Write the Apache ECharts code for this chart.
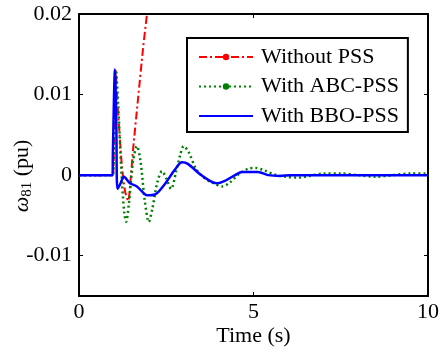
<!DOCTYPE html>
<html>
<head>
<meta charset="utf-8">
<script src="https://cdn.jsdelivr.net/npm/echarts@6/dist/echarts.min.js"></script>
<style>
  html, body { margin: 0; padding: 0; background: #fff; }
  #chart { width: 441px; height: 352px; }
</style>
</head>
<body>
<div id="chart"></div>
<script>
// series names
const names = ['Without PSS', 'With ABC-PSS', 'With BBO-PSS'];

// Without PSS (unstable, leaves the plot)
const tNo = [0, 0.97, 1.0, 1.05, 1.1, 1.23, 1.32, 1.41, 1.47, 1.55, 1.69, 1.83, 1.95, 2.1];
const wNo = [0, 0, 0.004, 0.013, 0.009, 0.0011, -0.002, -0.0032, -0.001, 0.0032, 0.0094, 0.0155, 0.0201, 0.026];

// With ABC-PSS
const tABC = [0, 0.97, 1.0, 1.06, 1.12, 1.22, 1.3, 1.35, 1.43, 1.55, 1.66, 1.76, 1.88, 2.0, 2.1, 2.25, 2.38, 2.5, 2.64, 2.78, 2.9, 3.0, 3.15, 3.35, 3.6, 3.85, 4.1, 4.3, 4.6, 4.85, 5.05, 5.3, 5.6, 5.9, 6.3, 6.6, 7.0, 7.5, 8.0, 8.5, 9.0, 9.5, 10];
const wABC = [0, 0, 0.004, 0.013, 0.009, 0.0, -0.0048, -0.0058, -0.0035, 0.0018, 0.0036, 0.0018, -0.003, -0.0058, -0.0042, -0.0008, 0.0005, -0.0004, -0.0017, 0.0004, 0.0025, 0.0036, 0.0028, 0.0008, -0.0004, -0.001, -0.0014, -0.001, 0.0002, 0.0008, 0.0009, 0.0006, 0.0001, -0.0002, -0.0003, -0.0001, 0.0002, 0.0002, 0.0, -0.0002, 0.0, 0.0002, 0.0002];

// With BBO-PSS
const tBBO = [0, 0.96, 0.97, 1.03, 1.07, 1.1, 1.17, 1.29, 1.46, 1.66, 1.8, 1.95, 2.18, 2.46, 2.75, 2.95, 3.12, 3.47, 3.75, 3.95, 4.18, 4.47, 4.67, 5.13, 5.42, 5.76, 6.05, 10];
const wBBO = [0, 0, 0.0025, 0.0131, 0.006, -0.0017, -0.0012, -0.0002, -0.001, -0.0014, -0.002, -0.0025, -0.0024, -0.0011, 0.0007, 0.0016, 0.0014, 0.0001, -0.0007, -0.001, -0.0007, 0.0, 0.0004, 0.0004, 0.0, -0.0001, 0.0, 0];

const yTicks = [-0.01, 0, 0.01, 0.02];

const pairs = (t, w) => t.map((v, i) => [v, w[i]]);
const font = 'Liberation Serif';

const chart = echarts.init(document.getElementById('chart'));

const boxLine = { show: true, onZero: false, lineStyle: { color: '#000', width: 2 } };
const tick = { inside: true, length: 4, lineStyle: { color: '#000' } };

chart.setOption({
    animation: false,
    grid: { left: 79, right: 13, top: 14, bottom: 56, containLabel: false, outerBoundsMode: 'none' },
    legend: {
        orient: 'vertical',
        left: 187,
        top: 38,
        data: [names[0], names[1], { name: names[2], itemStyle: { opacity: 0 } }],
        itemWidth: 54,
        itemHeight: 8,
        itemGap: 7.5,
        padding: [8, 9, 5, 11],
        backgroundColor: '#fff',
        borderColor: '#000',
        borderWidth: 2,
        borderRadius: 0,
        textStyle: { fontFamily: font, fontSize: 22, lineHeight: 22, color: '#000', padding: [0, 0, 0, 3] }
    },
    xAxis: [{
        type: 'value',
        min: 0,
        max: 10,
        interval: 5,
        name: 'Time (s)',
        nameLocation: 'middle',
        nameGap: 29,
        nameMoveOverlap: false,
        nameTextStyle: { fontFamily: font, fontSize: 22, color: '#000' },
        axisLine: boxLine,
        axisTick: tick,
        splitLine: { show: false },
        axisLabel: { fontFamily: font, fontSize: 22, color: '#000', margin: 5 }
    }, {
        type: 'value',
        position: 'top',
        min: 0,
        max: 10,
        interval: 5,
        axisLine: boxLine,
        axisTick: tick,
        splitLine: { show: false },
        axisLabel: { show: false }
    }],
    yAxis: [{
        type: 'value',
        min: -0.015,
        max: 0.02,
        name: '{w|ω}{s|81}{n| (pu)}',
        nameLocation: 'middle',
        nameRotate: 90,
        nameGap: 44,
        nameMoveOverlap: false,
        nameTextStyle: {
            padding: [0, 42, 0, 0],
            rich: {
                w: { fontFamily: font, fontSize: 22, fontStyle: 'italic', color: '#000', lineHeight: 26 },
                s: { fontFamily: font, fontSize: 15, color: '#000', verticalAlign: 'bottom', lineHeight: 15, padding: [9, 0, 0, 0] },
                n: { fontFamily: font, fontSize: 22, color: '#000', lineHeight: 26 }
            }
        },
        axisLine: boxLine,
        axisTick: { ...tick, customValues: yTicks },
        splitLine: { show: false },
        axisLabel: {
            customValues: yTicks,
            fontFamily: font, fontSize: 22, color: '#000', margin: 7,
            formatter: v => (v === 0 ? '0' : v.toFixed(2))
        }
    }, {
        type: 'value',
        position: 'right',
        min: -0.015,
        max: 0.02,
        axisLine: boxLine,
        axisTick: { ...tick, customValues: yTicks },
        splitLine: { show: false },
        axisLabel: { show: false }
    }],
    series: [{
        name: names[0],
        type: 'line',
        data: pairs(tNo, wNo),
        symbol: 'circle',
        showSymbol: false,
        smooth: 0.25,
        clip: true,
        color: '#ff0000',
        lineStyle: { color: '#ff0000', width: 2, type: [8, 3, 2, 3] }
    }, {
        name: names[1],
        type: 'line',
        data: pairs(tABC, wABC),
        symbol: 'circle',
        showSymbol: false,
        smooth: 0.3,
        clip: true,
        color: '#008000',
        lineStyle: { color: '#008000', width: 2.5, type: [2, 3] }
    }, {
        name: names[2],
        type: 'line',
        data: pairs(tBBO, wBBO),
        symbol: 'none',
        smooth: 0.3,
        clip: true,
        color: '#0000ff',
        lineStyle: { color: '#0000ff', width: 2.5 }
    }]
});

window.addEventListener('resize', () => chart.resize());
</script>
</body>
</html>
